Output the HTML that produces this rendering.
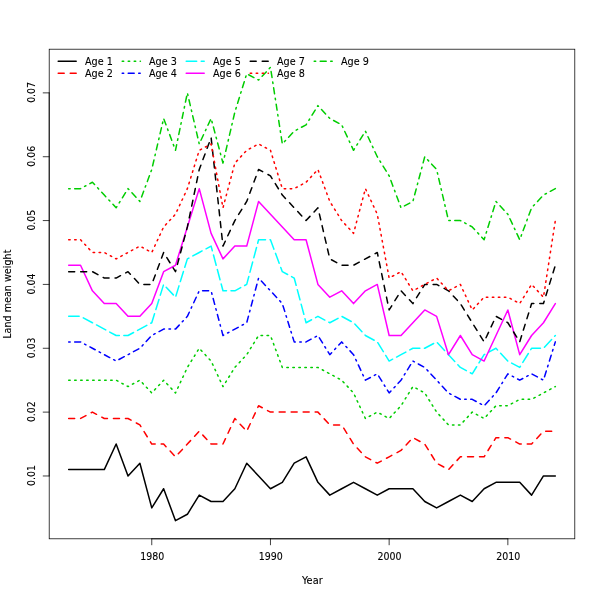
<!DOCTYPE html>
<html><head><meta charset="utf-8"><title>Land mean weight</title>
<style>
html,body{margin:0;padding:0;background:#fff;}
svg{display:block;}
text{font-family:"DejaVu Sans","Liberation Sans",sans-serif;font-size:10px;fill:#000;stroke:#000;stroke-width:0.1px;}
</style></head><body>
<svg width="600" height="600" viewBox="0 0 600 600">
<rect x="0" y="0" width="600" height="600" fill="#fff"/>
<g fill="none" stroke-width="1.5" stroke-linecap="round" stroke-linejoin="round">
<polyline points="68.67,469.59 80.54,469.59 92.41,469.59 104.28,469.59 116.15,444.05 128.02,475.97 139.89,463.20 151.76,507.90 163.63,488.74 175.50,520.67 187.37,514.28 199.24,495.13 211.11,501.51 222.98,501.51 234.85,488.74 246.72,463.20 258.59,475.97 270.46,488.74 282.33,482.36 294.20,463.20 306.07,456.82 317.93,482.36 329.80,495.13 341.67,488.74 353.54,482.36 365.41,488.74 377.28,495.13 389.15,488.74 401.02,488.74 412.89,488.74 424.76,501.51 436.63,507.90 448.50,501.51 460.37,495.13 472.24,501.51 484.11,488.74 495.98,482.36 507.85,482.36 519.72,482.36 531.59,495.13 543.46,475.97 555.33,475.97" stroke="#000000"/>
<polyline points="68.67,418.51 80.54,418.51 92.41,412.12 104.28,418.51 116.15,418.51 128.02,418.51 139.89,424.89 151.76,444.05 163.63,444.05 175.50,456.82 187.37,444.05 199.24,431.28 211.11,444.05 222.98,444.05 234.85,418.51 246.72,431.28 258.59,405.74 270.46,412.12 282.33,412.12 294.20,412.12 306.07,412.12 317.93,412.12 329.80,424.89 341.67,424.89 353.54,444.05 365.41,456.82 377.28,463.20 389.15,456.82 401.02,450.43 412.89,437.66 424.76,444.05 436.63,463.20 448.50,469.59 460.37,456.82 472.24,456.82 484.11,456.82 495.98,437.66 507.85,437.66 519.72,444.05 531.59,444.05 543.46,431.28 555.33,431.28" stroke="#FF0000" stroke-dasharray="6 6"/>
<polyline points="68.67,380.20 80.54,380.20 92.41,380.20 104.28,380.20 116.15,380.20 128.02,386.58 139.89,380.20 151.76,392.97 163.63,380.20 175.50,392.97 187.37,367.43 199.24,348.27 211.11,361.04 222.98,386.58 234.85,367.43 246.72,354.66 258.59,335.50 270.46,335.50 282.33,367.43 294.20,367.43 306.07,367.43 317.93,367.43 329.80,373.81 341.67,380.20 353.54,392.97 365.41,418.51 377.28,412.12 389.15,418.51 401.02,405.74 412.89,386.58 424.76,392.97 436.63,412.12 448.50,424.89 460.37,424.89 472.24,412.12 484.11,418.51 495.98,405.74 507.85,405.74 519.72,399.35 531.59,399.35 543.46,392.97 555.33,386.58" stroke="#00CD00" stroke-dasharray="1.5 4.5"/>
<polyline points="68.67,341.89 80.54,341.89 92.41,348.27 104.28,354.66 116.15,361.04 128.02,354.66 139.89,348.27 151.76,335.50 163.63,329.12 175.50,329.12 187.37,316.35 199.24,290.81 211.11,290.81 222.98,335.50 234.85,329.12 246.72,322.73 258.59,278.04 270.46,290.81 282.33,303.58 294.20,341.89 306.07,341.89 317.93,335.50 329.80,354.66 341.67,341.89 353.54,354.66 365.41,380.20 377.28,373.81 389.15,392.97 401.02,380.20 412.89,361.04 424.76,367.43 436.63,380.20 448.50,392.97 460.37,399.35 472.24,399.35 484.11,405.74 495.98,392.97 507.85,373.81 519.72,380.20 531.59,373.81 543.46,380.20 555.33,341.89" stroke="#0000FF" stroke-dasharray="1.5 4.5 6 4.5"/>
<polyline points="68.67,316.35 80.54,316.35 92.41,322.73 104.28,329.12 116.15,335.50 128.02,335.50 139.89,329.12 151.76,322.73 163.63,284.42 175.50,297.19 187.37,258.88 199.24,252.50 211.11,246.11 222.98,290.81 234.85,290.81 246.72,284.42 258.59,239.73 270.46,239.73 282.33,271.65 294.20,278.04 306.07,322.73 317.93,316.35 329.80,322.73 341.67,316.35 353.54,322.73 365.41,335.50 377.28,341.89 389.15,361.04 401.02,354.66 412.89,348.27 424.76,348.27 436.63,341.89 448.50,354.66 460.37,367.43 472.24,373.81 484.11,354.66 495.98,348.27 507.85,361.04 519.72,367.43 531.59,348.27 543.46,348.27 555.33,335.50" stroke="#00FFFF" stroke-dasharray="10.5 4.5"/>
<polyline points="68.67,265.27 80.54,265.27 92.41,290.81 104.28,303.58 116.15,303.58 128.02,316.35 139.89,316.35 151.76,303.58 163.63,271.65 175.50,265.27 187.37,226.96 199.24,188.65 211.11,233.34 222.98,258.88 234.85,246.11 246.72,246.11 258.59,201.42 270.46,214.19 282.33,226.96 294.20,239.73 306.07,239.73 317.93,284.42 329.80,297.19 341.67,290.81 353.54,303.58 365.41,290.81 377.28,284.42 389.15,335.50 401.02,335.50 412.89,322.73 424.76,309.96 436.63,316.35 448.50,354.66 460.37,335.50 472.24,354.66 484.11,361.04 495.98,335.50 507.85,309.96 519.72,354.66 531.59,335.50 543.46,322.73 555.33,303.58" stroke="#FF00FF"/>
<polyline points="68.67,271.65 80.54,271.65 92.41,271.65 104.28,278.04 116.15,278.04 128.02,271.65 139.89,284.42 151.76,284.42 163.63,252.50 175.50,271.65 187.37,226.96 199.24,169.49 211.11,137.57 222.98,246.11 234.85,220.57 246.72,201.42 258.59,169.49 270.46,175.88 282.33,195.03 294.20,207.80 306.07,220.57 317.93,207.80 329.80,258.88 341.67,265.27 353.54,265.27 365.41,258.88 377.28,252.50 389.15,309.96 401.02,290.81 412.89,303.58 424.76,284.42 436.63,284.42 448.50,290.81 460.37,303.58 472.24,322.73 484.11,341.89 495.98,316.35 507.85,322.73 519.72,341.89 531.59,303.58 543.46,303.58 555.33,265.27" stroke="#000000" stroke-dasharray="6 6"/>
<polyline points="68.67,239.73 80.54,239.73 92.41,252.50 104.28,252.50 116.15,258.88 128.02,252.50 139.89,246.11 151.76,252.50 163.63,226.96 175.50,214.19 187.37,188.65 199.24,150.34 211.11,143.95 222.98,207.80 234.85,163.11 246.72,150.34 258.59,143.95 270.46,150.34 282.33,188.65 294.20,188.65 306.07,182.26 317.93,169.49 329.80,201.42 341.67,220.57 353.54,233.34 365.41,188.65 377.28,214.19 389.15,278.04 401.02,271.65 412.89,290.81 424.76,284.42 436.63,278.04 448.50,290.81 460.37,284.42 472.24,309.96 484.11,297.19 495.98,297.19 507.85,297.19 519.72,303.58 531.59,284.42 543.46,297.19 555.33,220.57" stroke="#FF0000" stroke-dasharray="1.5 4.5"/>
<polyline points="68.67,188.65 80.54,188.65 92.41,182.26 104.28,195.03 116.15,207.80 128.02,188.65 139.89,201.42 151.76,169.49 163.63,118.41 175.50,150.34 187.37,92.87 199.24,143.95 211.11,118.41 222.98,163.11 234.85,112.03 246.72,73.72 258.59,80.10 270.46,67.33 282.33,143.95 294.20,131.18 306.07,124.80 317.93,105.64 329.80,118.41 341.67,124.80 353.54,150.34 365.41,131.18 377.28,156.72 389.15,175.88 401.02,207.80 412.89,201.42 424.76,156.72 436.63,169.49 448.50,220.57 460.37,220.57 472.24,226.96 484.11,239.73 495.98,201.42 507.85,214.19 519.72,239.73 531.59,207.80 543.46,195.03 555.33,188.65" stroke="#00CD00" stroke-dasharray="1.5 4.5 6 4.5"/>
</g>
<g fill="none" stroke="#000" stroke-width="0.75" stroke-linecap="round">
<line x1="151.76" y1="538.8" x2="507.85" y2="538.8"/>
<line x1="151.76" y1="538.8" x2="151.76" y2="544.8"/>
<line x1="270.46" y1="538.8" x2="270.46" y2="544.8"/>
<line x1="389.15" y1="538.8" x2="389.15" y2="544.8"/>
<line x1="507.85" y1="538.8" x2="507.85" y2="544.8"/>
<line x1="49.2" y1="475.97" x2="49.2" y2="92.87"/>
<line x1="49.2" y1="475.97" x2="43.2" y2="475.97"/>
<line x1="49.2" y1="412.12" x2="43.2" y2="412.12"/>
<line x1="49.2" y1="348.27" x2="43.2" y2="348.27"/>
<line x1="49.2" y1="284.42" x2="43.2" y2="284.42"/>
<line x1="49.2" y1="220.57" x2="43.2" y2="220.57"/>
<line x1="49.2" y1="156.72" x2="43.2" y2="156.72"/>
<line x1="49.2" y1="92.87" x2="43.2" y2="92.87"/>
<rect x="49.2" y="49.2" width="525.6" height="489.6"/>
</g>
<g fill="none" stroke-width="1.5" stroke-linecap="round">
<line x1="58.20" y1="61.20" x2="76.20" y2="61.20" stroke="#000000"/>
<text transform="translate(85.00,64.95) scale(0.965,1.05)">Age 1</text>
<line x1="58.20" y1="73.20" x2="76.20" y2="73.20" stroke="#FF0000" stroke-dasharray="6 6"/>
<text transform="translate(85.00,76.95) scale(0.965,1.05)">Age 2</text>
<line x1="122.20" y1="61.20" x2="140.40" y2="61.20" stroke="#00CD00" stroke-dasharray="1.5 4.5"/>
<text transform="translate(149.00,64.95) scale(0.965,1.05)">Age 3</text>
<line x1="122.20" y1="73.20" x2="140.20" y2="73.20" stroke="#0000FF" stroke-dasharray="1.5 4.5 6 4.5"/>
<text transform="translate(149.00,76.95) scale(0.965,1.05)">Age 4</text>
<line x1="186.20" y1="61.20" x2="204.20" y2="61.20" stroke="#00FFFF" stroke-dasharray="10.5 4.5"/>
<text transform="translate(213.00,64.95) scale(0.965,1.05)">Age 5</text>
<line x1="186.20" y1="73.20" x2="204.20" y2="73.20" stroke="#FF00FF"/>
<text transform="translate(213.00,76.95) scale(0.965,1.05)">Age 6</text>
<line x1="250.20" y1="61.20" x2="268.20" y2="61.20" stroke="#000000" stroke-dasharray="6 6"/>
<text transform="translate(277.00,64.95) scale(0.965,1.05)">Age 7</text>
<line x1="250.20" y1="73.20" x2="268.40" y2="73.20" stroke="#FF0000" stroke-dasharray="1.5 4.5"/>
<text transform="translate(277.00,76.95) scale(0.965,1.05)">Age 8</text>
<line x1="314.20" y1="61.20" x2="332.20" y2="61.20" stroke="#00CD00" stroke-dasharray="1.5 4.5 6 4.5"/>
<text transform="translate(341.00,64.95) scale(0.965,1.05)">Age 9</text>
</g>
<g>
<text transform="translate(152.16,559.8) scale(0.945,1.05)" text-anchor="middle">1980</text>
<text transform="translate(270.86,559.8) scale(0.945,1.05)" text-anchor="middle">1990</text>
<text transform="translate(389.55,559.8) scale(0.945,1.05)" text-anchor="middle">2000</text>
<text transform="translate(508.25,559.8) scale(0.945,1.05)" text-anchor="middle">2010</text>
<text transform="translate(35.2,475.57) rotate(-90) scale(0.935,1.05)" text-anchor="middle">0.01</text>
<text transform="translate(35.2,411.72) rotate(-90) scale(0.935,1.05)" text-anchor="middle">0.02</text>
<text transform="translate(35.2,347.87) rotate(-90) scale(0.935,1.05)" text-anchor="middle">0.03</text>
<text transform="translate(35.2,284.02) rotate(-90) scale(0.935,1.05)" text-anchor="middle">0.04</text>
<text transform="translate(35.2,220.17) rotate(-90) scale(0.935,1.05)" text-anchor="middle">0.05</text>
<text transform="translate(35.2,156.32) rotate(-90) scale(0.935,1.05)" text-anchor="middle">0.06</text>
<text transform="translate(35.2,92.47) rotate(-90) scale(0.935,1.05)" text-anchor="middle">0.07</text>
<text transform="translate(312.3,583.8) scale(0.98,1.05)" text-anchor="middle">Year</text>
<text transform="translate(10.9,294.2) rotate(-90) scale(0.963,1.05)" text-anchor="middle">Land mean weight</text>
</g>
</svg>
</body></html>
